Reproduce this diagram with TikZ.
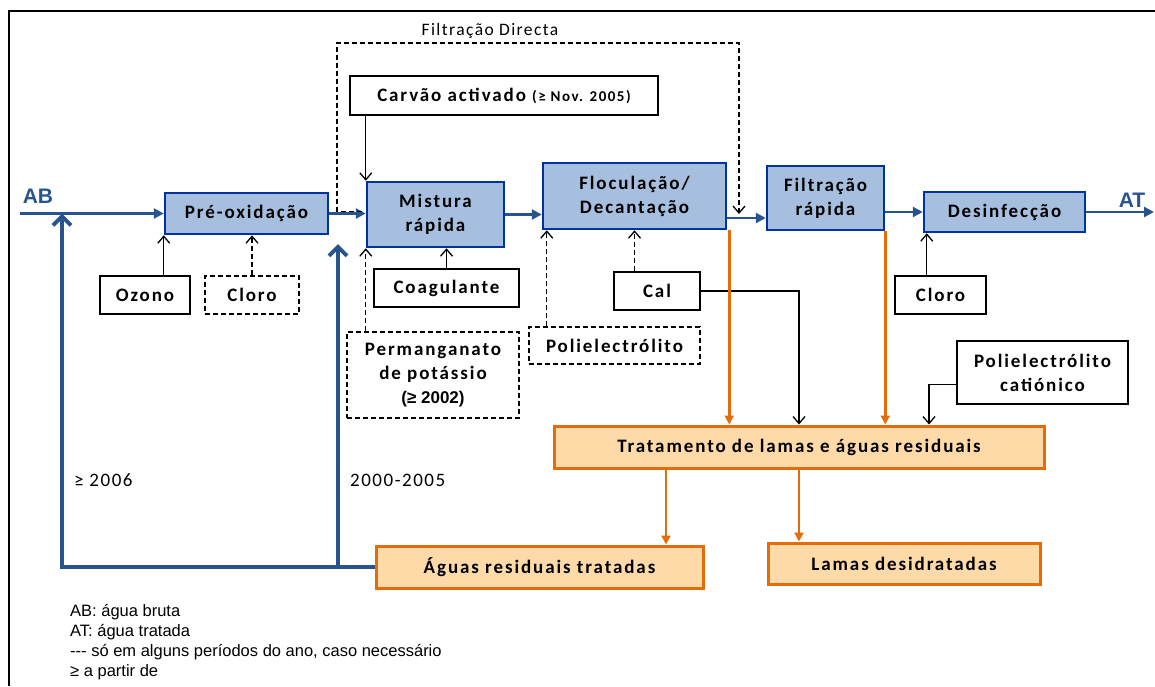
\documentclass[tikz,border=0pt]{standalone}
\usepackage{fontspec}
\setmainfont{Carlito}
\newfontfamily\boxfont{Carlito}[LetterSpace=10]
\newfontfamily\notefont{Carlito}[LetterSpace=8]
\newfontfamily\legfont{Liberation Sans}
\usetikzlibrary{arrows.meta}
\definecolor{etablue}{RGB}{0,51,160}
\definecolor{etafill}{RGB}{167,191,223}
\definecolor{flowblue}{RGB}{40,84,142}
\definecolor{lamaor}{RGB}{228,108,10}
\definecolor{lamafill}{RGB}{253,218,168}
\tikzset{
  procbox/.style={draw=etablue, fill=etafill, line width=2.5pt, inner sep=0pt, align=center,
    font=\boxfont\bfseries\fontsize{19}{24}\selectfont},
  chembox/.style={draw=black, line width=1.3pt, inner sep=0pt, align=center,
    font=\boxfont\bfseries\fontsize{19}{24}\selectfont},
  optbox/.style={chembox, dash pattern=on 5pt off 3pt},
  lamabox/.style={draw=lamaor, fill=lamafill, line width=3pt, inner sep=0pt,
    font=\boxfont\bfseries\fontsize{19}{24}\selectfont},
  flowarrow/.style={draw=flowblue, line width=2.5pt, -{Triangle[length=10pt,width=10pt]}},
  dose/.style={line width=1.3pt, -{Straight Barb[length=7pt,width=12pt]}},
  optdose/.style={dose, dash pattern=on 5pt off 3pt},
  lamaflow/.style={draw=lamaor, line width=2.5pt, -{Triangle[length=9pt,width=9pt]}},
  retorno/.style={draw=flowblue, line width=4pt, -{Straight Barb[length=9pt,width=18pt]}}
}

\begin{document}
\begin{tikzpicture}[x=1pt,y=-1pt]
	\useasboundingbox (0,0) rectangle (1155,686);
	%%%%% frame %%%%%
	\draw[line width=2.5pt] (9,686) -- (9,11) -- (1155,11);
	
	%%%%% treatment line %%%%%
	\node[procbox, minimum width=163pt, minimum height=41pt] (preox) at (246.5,213.5) {Pré-oxidação};
	\node[procbox, minimum width=137pt, minimum height=65pt] (mistura) at (435.5,214.5) {Mistura\\rápida};
	\node[procbox, minimum width=183pt, minimum height=66pt] (floc) at (634.5,196) {Floculação/\\Decantação};
	\node[procbox, minimum width=117pt, minimum height=64pt] (filt) at (825.5,198) {Filtração\\rápida};
	\node[procbox, minimum width=161pt, minimum height=40pt] (desinf) at (1004.5,212) {Desinfecção};
	
	\node[text=flowblue, font=\legfont\bfseries\fontsize{21}{21}\selectfont, inner sep=0pt] (ab) at (38,196) {AB};
	\node[text=flowblue, font=\legfont\bfseries\fontsize{21}{21}\selectfont, inner sep=0pt] (at) at (1132,200) {AT};
	
	%%%%% reagents %%%%%
	\node[chembox, minimum width=90pt, minimum height=38pt] (ozono) at (145,295) {Ozono};
	\node[optbox, minimum width=94pt, minimum height=38pt] (cloroA) at (252,295) {Cloro};
	\node[chembox, minimum width=308pt, minimum height=39pt] (carvao) at (504,95.5) {Carvão activado {\fontsize{15}{17}\selectfont(≥ Nov. 2005)}};
	\node[chembox, minimum width=145pt, minimum height=38pt] (coag) at (446.5,288) {Coagulante};
	\node[optbox, minimum width=172pt, minimum height=86pt] (perm) at (433,375) {Permanganato\\de potássio\\{\legfont\fontsize{17}{20}\selectfont(≥ 2002)}};
	\node[chembox, minimum width=86pt, minimum height=38pt] (cal) at (657,291) {Cal};
	\node[optbox, minimum width=171pt, minimum height=37pt] (poli) at (614.5,345.5) {Polielectrólito};
	\node[chembox, minimum width=91pt, minimum height=38pt] (cloroB) at (940.5,295) {Cloro};
	\node[chembox, minimum width=171pt, minimum height=63pt] (polcat) at (1042.5,372.5) {Polielectrólito\\catiónico};
	
	%%%%% sludge line %%%%%
	\node[lamabox, minimum width=490pt, minimum height=42pt] (trat) at (799,447) {Tratamento de lamas e águas residuais};
	\node[lamabox, minimum width=327pt, minimum height=42pt] (aguas) at (539.5,567) {Águas residuais tratadas};
	\node[lamabox, minimum width=272pt, minimum height=41pt] (lamas) at (904,563.5) {Lamas desidratadas};
	
	%%%%% labels %%%%%
	\node[font=\notefont\fontsize{17.5}{20}\selectfont, inner sep=0pt] (fdlabel) at (490,31) {Filtração Directa};
	\node[font=\notefont\fontsize{19}{20}\selectfont, inner sep=0pt, anchor=west] (ano06) at (74,480) {≥ 2006};
	\node[font=\notefont\fontsize{19}{20}\selectfont, inner sep=0pt, anchor=west] (ano00) at (350,480) {2000-2005};
	\node[font=\legfont\fontsize{16.5}{20}\selectfont, inner sep=0pt, anchor=north west, align=left] (legenda) at (70,604)
		{AB: água bruta\\AT: água tratada\\-{}-{}- só em alguns períodos do ano, caso necessário\\≥ a partir de};
	
	%%%%% water flow %%%%%
	\coordinate (abin) at (20,213.5);
	\coordinate (atout) at (1154,212);
	\draw[flowarrow] (abin) -- (preox.west);
	\draw[flowarrow] (preox.east) -- (preox.east -| mistura.west);
	\draw[flowarrow] (mistura.east) -- (mistura.east -| floc.west);
	\draw[flowarrow] ([yshift=-22pt]floc.east) -- ([yshift=-22pt]floc.east -| filt.west);
	\draw[flowarrow] (desinf.west -| filt.east) -- (desinf.west);
	\draw[flowarrow] (desinf.east) -- (atout);
	
	%%%%% dosing %%%%%
	\coordinate (polin) at ([xshift=5pt]floc.south west);
	\coordinate (desin) at ([xshift=4pt]desinf.south west);
	\draw[dose] (ozono.north -| preox.west) -- (preox.south west);
	\draw[optdose] (cloroA.north) -- (cloroA.north |- preox.south);
	\draw[dose] (carvao.south -| mistura.west) -- (mistura.north west);
	\draw[dose] (coag.north) -- (coag.north |- mistura.south);
	\draw[optdose] (perm.north -| mistura.west) -- (mistura.south west);
	\draw[optdose] (polin |- poli.north) -- (polin);
	\draw[optdose] (cal.north -| floc.south) -- (floc.south);
	\draw[dose] (cal.east) -| (trat.north);
	\draw[dose] (cloroB.north -| desin) -- (desin);
	\draw[dose] ([yshift=-12pt]polcat.west) -| ([xshift=130pt]trat.north);
	
	% direct filtration bypass
	\coordinate (fdL) at (337,43);
	\coordinate (fdR) at (739,43);
	\coordinate (fdend) at (739,214);
	\draw[optdose] ([shift={(-4pt,3pt)}]mistura.west) -| (fdL) -- (fdR) -- (fdend);
	
	%%%%% sludge flow %%%%%
	\coordinate (tratA) at ([xshift=-133pt]trat.south);
	\draw[lamaflow] ([xshift=2pt]floc.south east) -- ([xshift=2pt]floc.south east |- trat.north);
	\draw[lamaflow] (filt.south east) -- (filt.south east |- trat.north);
	\draw[lamaflow] (tratA) -- (tratA |- aguas.north);
	\draw[lamaflow] (trat.south) -- (trat.south |- lamas.north);
	
	%%%%% return of treated wastewater %%%%%
	\coordinate (retL) at (62,567);
	\coordinate (retM) at (338,567);
	\coordinate (retMtop) at (338,244);
	\draw[retorno] (aguas.west) -- (retL) -- (retL |- abin);
	\draw[retorno] (retM) -- (retMtop);
\end{tikzpicture}
\end{document}
